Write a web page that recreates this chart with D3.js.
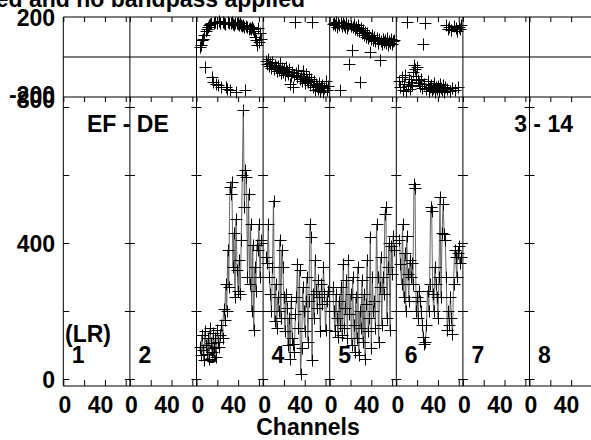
<!DOCTYPE html>
<html><head><meta charset="utf-8">
<script src="https://cdn.jsdelivr.net/npm/d3@7"></script>
<style>
html,body{margin:0;padding:0;background:#fff;overflow:hidden}
svg{display:block}
text{font-family:"Liberation Sans",Arial,Helvetica,sans-serif;font-weight:bold;font-size:23px;fill:#000}
</style></head><body>
<svg id="chart" width="591" height="440"></svg>
<script>
// ---------------- data ----------------
const channels = [3,4,5,6,7,8,9,10,11,12,13,14,15,16,17,18,19,20,21,22,
  23,24,25,26,27,28,29,30,31,32,33,34,35,36,37,38,39,40,41,42,
  43,44,45,46,47,48,49,50,51,52,53,54,55,56,57,58,59,60,61,62];
const panelNumbers = [1,2,3,4,5,6,7,8];
const ampIF3 = [95,70,130,85,55,140,100,75,120,60, 150,105,80,135,90,120,65,145,110,95,
  130,160,120,205,175,280,200,380,270,565, 545,580,330,430,240,470,320,260,350,250,
  410,600,790,505,614,593,300,545,280,455, 200,395,144,330,260,395,380,455,300,410];
const ampIF4 = [360,340,455,300,250,200,330,525,170,280, 150,240,200,410,180,380,330,240,140,250,
  210,100,180,60,230,120,103,80,190,240, 338,150,320,15,90,270,200,140,230,300,
  110,230,455,417,55,250,180,350,260,210, 290,240,140,280,220,330,250,144,230,260];
const ampIF5 = [270,200,140,250,180,123,230,160,270,130, 338,150,210,290,120,350,190,250,100,300,
  160,80,240,120,330,70,200,150,290,110, 250,60,220,350,140,180,417,90,300,200,
  230,150,455,300,110,270,358,160,300,250, 485,505,180,330,400,144,390,310,420,380];
const ampIF6 = [408,338,280,455,240,370,200,420,310,230, 350,300,340,280,573,563,200,240,180,260,
  230,200,160,123,103,110,160,260,200,280, 505,495,250,200,330,280,240,180,300,535,
  240,430,514,426,410,300,144,200,160,240, 180,133,280,379,358,300,370,390,340,360];
const phaseIF3 = [50,60,85,92,110,-50,128,140,150,160, 165,170,-100,-125,172,175,-133,168,-142,178,
  170,-150,176,172,165,-150,-158,174,168,-167, 170,175,165,160,172,-175,168,165,158,170,
  162,155,160,150,-167,155,148,140,145,142, 150,140,130,100,85,60,145,75,120,90];
const phaseIF4 = [-20,-35,-10,-45,-30,-55,-25,-60,-40,-50, -70,-45,-65,-30,-80,-55,-75,-60,-90,-50,
  -70,-85,-60,-135,-95,-75,-150,-90,176,-80, -100,-65,-110,-95,-120,-70,-105,-130,-85,-115,
  -125,-100,-140,-110,175,-150,-120,-165,-135,-145, -160,-130,-170,-150,-140,-175,-155,-120,-165,-145];
const phaseIF5 = [165,172,158,175,150,168,160,-165,170,155, 172,162,150,168,145,160,-35,155,35,148,
  165,140,150,135,158,130,-125,145,120,135, 110,125,100,118,95,105,25,90,110,85,
  100,78,95,70,88,-15,80,65,92,75, 85,70,95,60,80,72,90,65,78,85];
const phaseIF6 = [-120,-150,-100,-165,-135,-90,-170,175,-145,-110, -160,-125,-140,-75,-40,-60,-95,-50,-115,-130,
  -145,-110,-155,65,-135,170,-160,-120,-170,-150, -140,-165,-155,-130,-175,-150,-160,-145,-170,-135,
  -155,-165,-140,-175,-150,160,-160,140,150,-170, 135,-155,155,-165,145,128,-150,150,140,160];
const ampTicks = [0,200,400,600,800];
const ampTickLabels = [0,400,800];
const phaseTickLabels = [200,-200];
const chanTicks = [0,20,40,60];
const chanTickLabels = [0,40];
const titleText = "No calibration applied and no bandpass applied";
const xTitle = "Channels";
const baselineLabel = "EF - DE";
const timeLabel = "3 - 14";
const polLabel = "(LR)";

const series = [
  {panel:3, amp:ampIF3, phase:phaseIF3},
  {panel:4, amp:ampIF4, phase:phaseIF4},
  {panel:5, amp:ampIF5, phase:phaseIF5},
  {panel:6, amp:ampIF6, phase:phaseIF6}
];

// ---------------- layout ----------------
const svg = d3.select("#chart");
const plotLeft = 63.3, panelW = 66.6;
const panelScale = d3.scaleLinear().domain([0, 8]).range([plotLeft, plotLeft + 8 * panelW]);
const phaseTop = 17, split = 97, ampBottom = 386;
const yPhase = d3.scaleLinear().domain([-200, 200]).range([split, phaseTop]);
const yAmp = d3.scaleLinear().domain([0, 800]).range([379, 107]);
const right = panelScale(8);
const px = v => Math.round(v) + 0.5;

// title (clipped at left, as in reference)
svg.append("text").attr("x", 305).attr("y", 7).attr("text-anchor", "end").text(titleText);

const frame = svg.append("g").attr("stroke", "#000").attr("stroke-width", 1).attr("fill", "none");
[phaseTop, yPhase(0), split, ampBottom].forEach(y => {
  frame.append("line").attr("x1", plotLeft).attr("x2", right).attr("y1", y).attr("y2", y);
});
panelNumbers.forEach((p, i) => {
  const x0 = panelScale(i);
  frame.append("line").attr("x1", x0).attr("x2", x0).attr("y1", phaseTop).attr("y2", ampBottom);
});

function styleAxis(g) {
  g.select(".domain").remove();
  g.selectAll("line").attr("stroke", "#000");
  g.selectAll("text").remove();
}

const chanScales = panelNumbers.map((p, i) =>
  d3.scaleLinear().domain([0, 64]).range([panelScale(i), panelScale(i) + panelW]));

panelNumbers.forEach((p, i) => {
  const x = chanScales[i];
  svg.append("g").attr("transform", `translate(0,${ampBottom})`)
    .call(d3.axisBottom(x).tickValues(chanTicks).tickSize(-6)).call(styleAxis);
  svg.append("g").attr("transform", `translate(0,${split})`)
    .call(d3.axisTop(x).tickValues(chanTicks).tickSize(-5)).call(styleAxis);
  svg.append("g").attr("transform", `translate(0,${phaseTop})`)
    .call(d3.axisTop(x).tickValues(chanTicks).tickSize(-5)).call(styleAxis);
  svg.append("g").attr("transform", `translate(${panelScale(i)},0)`)
    .call(d3.axisLeft(yAmp).tickValues(ampTicks).tickSize(i === 0 ? -6 : -5)).call(styleAxis);
  svg.append("g").attr("transform", `translate(${panelScale(i + 1)},0)`)
    .call(d3.axisRight(yAmp).tickValues(ampTicks).tickSize(-5)).call(styleAxis);

  // channel tick labels
  chanTickLabels.forEach(v => {
    svg.append("text").attr("x", x(v) + (v === 0 ? 1.5 : -4.5)).attr("y", 413)
      .attr("text-anchor", "middle").text(v);
  });
  // panel number
  svg.append("text").attr("x", panelScale(i) + 8.5).attr("y", 363).text(p);
});

// y labels
const ampMax = d3.max(ampTickLabels);
ampTickLabels.forEach(v => {
  svg.append("text").attr("x", 55).attr("y", v === ampMax ? split + 11 : yAmp(v) + 9)
    .attr("text-anchor", "end").text(v);
});
phaseTickLabels.forEach(v => {
  svg.append("text").attr("x", 55).attr("y", v > 0 ? yPhase(v) + 9 : yPhase(v) + 6)
    .attr("text-anchor", "end").text(v);
});

// annotations
svg.append("text").attr("x", 87).attr("y", 131.5).text(baselineLabel);
svg.append("text").attr("x", 573).attr("y", 131.5).attr("text-anchor", "end").text(timeLabel);
svg.append("text").attr("x", 65).attr("y", 342).text(polLabel);
svg.append("text").attr("x", 308).attr("y", 435).attr("text-anchor", "middle").text(xTitle);

// data
const cross = (x, y) => { const cx = px(x), cy = px(y); return `M${cx - 6},${cy}h12M${cx},${cy - 6}v12`; };
series.forEach(s => {
  const x = chanScales[s.panel - 1];
  const line = d3.line().x((d, k) => x(channels[k])).y(d => yAmp(d));
  svg.append("path").attr("d", line(s.amp)).attr("fill", "none")
    .attr("stroke", "#555").attr("stroke-width", 0.9);
  svg.append("path").attr("fill", "none").attr("stroke", "#000").attr("stroke-width", 1)
    .attr("d", s.amp.map((v, k) => cross(x(channels[k]), yAmp(v))).join(""));
  svg.append("path").attr("fill", "none").attr("stroke", "#000").attr("stroke-width", 1)
    .attr("d", s.phase.map((v, k) => cross(x(channels[k]), yPhase(v))).join(""));
});
</script>
</body></html>
